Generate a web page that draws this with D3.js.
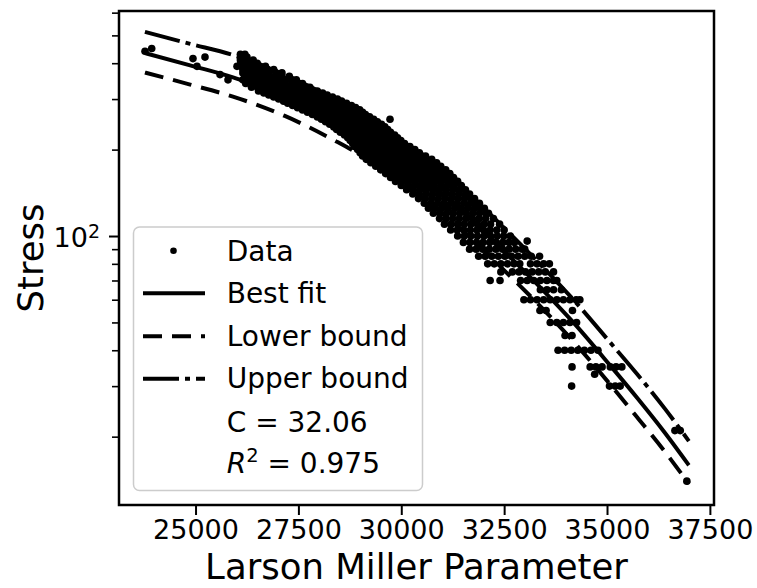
<!DOCTYPE html>
<html>
<head>
<meta charset="utf-8">
<script src="https://cdn.jsdelivr.net/npm/d3@7"></script>
<style>
  body { margin: 0; background: #fff; }
  text { font-family: "DejaVu Sans", sans-serif; fill: #000; }
</style>
</head>
<body>
<div id="chart"></div>
<script>
// fitted curves (Larson Miller parameter vs stress)
const fitLMP = [23770, 24870, 25910, 27170, 28410, 29240, 30040, 30870, 31670, 32520, 33370, 34170, 35070, 35750, 36410, 36990];
const fitBest = [434, 393, 357, 305, 250, 213, 177, 145, 116, 88, 66.4, 50.2, 35.5, 27.1, 20.6, 15.9];
const fitUpper = [514, 467, 427, 364, 298, 254, 211, 173, 139, 106, 79.9, 60.3, 42.7, 32.8, 25.0, 19.3];
const fitLower = [371, 337, 306, 262, 214, 183, 152, 124, 99.2, 75.5, 57.1, 43.1, 30.5, 23.2, 17.7, 13.7];

// test data, grouped by stress level
const rowStress = [430, 420, 410, 400, 390, 380, 370, 360, 350, 340, 330, 320, 315, 310, 305, 300, 295, 290, 285, 280,
  275, 270, 265, 260, 255, 250, 245, 240, 235, 230, 225, 220, 215, 210, 205, 200, 195, 190, 185, 180, 175, 170, 165,
  160, 155, 150, 145, 140, 135, 130, 125, 120, 115, 110, 105, 100, 95, 90, 85,
  80, 75, 70, 65, 60, 55, 50, 45, 40, 35, 30, 21, 14];
const rowLMP = [
  [26090, 26200],
  [26100, 26250],
  [26090, 26250, 26400],
  [26100, 26250, 26400, 26500],
  [26120, 26270, 26420, 26570, 26700],
  [26150, 26300, 26450, 26600, 26750, 26900],
  [26150, 26300, 26460, 26620, 26780, 26950, 27100],
  [26200, 26350, 26500, 26650, 26800, 26950, 27100, 27280],
  [26150, 26300, 26450, 26600, 26750, 26900, 27050, 27200, 27350, 27450],
  [26220, 26380, 26540, 26700, 26860, 27020, 27180, 27340, 27480, 27600],
  [26360, 26510, 26660, 26810, 26960, 27110, 27260, 27410, 27560, 27700, 27780],
  [26530, 26690, 26850, 27010, 27170, 27330, 27490, 27650, 27810, 27960],
  [26660, 26820, 26980, 27140, 27300, 27460, 27620, 27780, 27940, 28090],
  [26780, 26940, 27100, 27260, 27420, 27580, 27740, 27900, 28060, 28200],
  [26900, 27060, 27220, 27380, 27540, 27700, 27860, 28020, 28180, 28330],
  [27020, 27180, 27340, 27500, 27660, 27820, 27980, 28140, 28300, 28450],
  [27140, 27300, 27460, 27620, 27780, 27940, 28100, 28260, 28420, 28550],
  [27240, 27400, 27560, 27720, 27880, 28040, 28200, 28360, 28520, 28670],
  [27360, 27520, 27680, 27840, 28000, 28160, 28320, 28480, 28640, 28790],
  [27480, 27640, 27800, 27960, 28120, 28280, 28440, 28600, 28760, 28890],
  [27600, 27760, 27920, 28080, 28240, 28400, 28560, 28720, 28880, 28990],
  [27720, 27880, 28040, 28200, 28360, 28520, 28680, 28840, 29000, 29060],
  [27840, 28000, 28160, 28320, 28480, 28640, 28800, 28960, 29130],
  [27960, 28120, 28280, 28440, 28600, 28760, 28920, 29080, 29230],
  [28060, 28220, 28380, 28540, 28700, 28860, 29020, 29180, 29330],
  [28160, 28320, 28480, 28640, 28800, 28960, 29120, 29280, 29420],
  [28260, 28420, 28580, 28740, 28900, 29060, 29220, 29380, 29520],
  [28360, 28520, 28680, 28840, 29000, 29160, 29320, 29480, 29600],
  [28430, 28590, 28750, 28910, 29070, 29230, 29390, 29550, 29670],
  [28520, 28680, 28840, 29000, 29160, 29320, 29480, 29640, 29740],
  [28620, 28780, 28940, 29100, 29260, 29420, 29580, 29740, 29840],
  [28700, 28860, 29020, 29180, 29340, 29500, 29660, 29820, 29910],
  [28760, 28920, 29080, 29240, 29400, 29560, 29720, 29880, 29990],
  [28820, 28980, 29140, 29300, 29460, 29620, 29780, 29940, 30080],
  [28860, 29020, 29180, 29340, 29500, 29660, 29820, 29980, 30140, 30210],
  [28940, 29100, 29260, 29420, 29580, 29740, 29900, 30060, 30220, 30330],
  [29000, 29160, 29320, 29480, 29640, 29800, 29960, 30120, 30280, 30440],
  [29060, 29220, 29380, 29540, 29700, 29860, 30020, 30180, 30340, 30500, 30590],
  [29150, 29310, 29470, 29630, 29790, 29950, 30110, 30270, 30430, 30590, 30740],
  [29260, 29420, 29580, 29740, 29900, 30060, 30220, 30380, 30540, 30700, 30860],
  [29380, 29540, 29700, 29860, 30020, 30180, 30340, 30500, 30660, 30820, 30960],
  [29500, 29660, 29820, 29980, 30140, 30300, 30460, 30620, 30780, 30940, 31080],
  [29620, 29780, 29940, 30100, 30260, 30420, 30580, 30740, 30900, 31060, 31180],
  [29740, 29900, 30060, 30220, 30380, 30540, 30700, 30860, 31020, 31180, 31270],
  [29860, 30020, 30180, 30340, 30500, 30660, 30820, 30980, 31140, 31300, 31370],
  [30000, 30160, 30320, 30480, 30640, 30800, 30960, 31120, 31280, 31460],
  [30130, 30290, 30450, 30610, 30770, 30930, 31090, 31250, 31410, 31560],
  [30280, 30440, 30600, 30760, 30920, 31080, 31240, 31400, 31560, 31660],
  [30420, 30580, 30740, 30900, 31060, 31220, 31380, 31540, 31700, 31780],
  [30560, 30720, 30880, 31040, 31200, 31360, 31520, 31680, 31840, 31900],
  [30660, 30820, 30980, 31140, 31300, 31460, 31620, 31780, 31940, 32020],
  [30780, 30940, 31100, 31260, 31420, 31580, 31740, 31900, 32060, 32120],
  [30930, 31090, 31250, 31410, 31570, 31730, 31890, 32050, 32240],
  [31050, 31210, 31370, 31530, 31690, 31850, 32010, 32170, 32390],
  [31200, 31360, 31520, 31680, 31840, 32000, 32160, 32320, 32500],
  [31370, 31530, 31690, 31850, 32010, 32170, 32330, 32490, 32650],
  [31510, 31670, 31830, 31990, 32150, 32310, 32470, 32620, 32750],
  [31660, 31820, 31980, 32140, 32300, 32460, 32620, 32780, 32940, 33000],
  [31880, 32040, 32200, 32360, 32520, 32680, 32840, 33000, 33160, 33360],
  [32100, 32260, 32420, 32580, 32740, 32880, 33140, 33300, 33460, 33600],
  [32420, 32700, 32860, 33020, 33180, 33340, 33500, 33700],
  [32160, 32400, 32900, 33060, 33220, 33380, 33540, 33700, 33780],
  [33380, 33540, 33700, 33890],
  [32980, 33140, 33300, 33460, 33620, 33780, 33940, 34100, 34250, 34340],
  [33370, 33520, 34160],
  [33620, 33780, 33940, 34100, 34260],
  [33980, 34150],
  [33810, 33970, 34130, 34290, 34450, 34610, 34780],
  [34150, 34590, 34730, 34880, 35080, 35220, 35360],
  [34140, 35060, 35200, 35320],
  [36650, 36780],
  [36940]
];
// scattered single points
const extraLMP = [23935, 23772, 24938, 25230, 25036, 25595, 25789, 26202, 26008, 29726, 33060, 34700];
const extraStress = [450, 440, 415, 420, 390, 365, 350, 410, 390, 255, 96, 33];

const xTicks = [25000, 27500, 30000, 32500, 35000, 37500];
const yMajor = [100];
const yMinor = [20, 30, 40, 50, 60, 70, 80, 90, 200, 300, 400, 500, 600];

const legendLabels = ["Data", "Best fit", "Lower bound", "Upper bound"];
const cText = "C = 32.06";
const r2Value = "0.975";

const width = 757, height = 588;
const plotLeft = 119, plotRight = 714, plotTop = 11, plotBottom = 505;
const dashLower = "19,10", dashUpper = "36,6,5,6";

const svg = d3.select("#chart").append("svg")
  .attr("width", width)
  .attr("height", height);

const x = d3.scaleLinear().domain([23140, 37600]).range([plotLeft, plotRight]);
const y = d3.scaleLog().domain([11.56, 608]).range([plotBottom, plotTop]);

svg.append("clipPath").attr("id", "clip")
  .append("rect")
  .attr("x", plotLeft).attr("y", plotTop)
  .attr("width", plotRight - plotLeft).attr("height", plotBottom - plotTop);

const points = [];
rowStress.forEach((s, i) => rowLMP[i].forEach((l) => points.push([l, s])));
extraLMP.forEach((l, i) => points.push([l, extraStress[i]]));

const plot = svg.append("g").attr("clip-path", "url(#clip)");

plot.selectAll("circle.dot")
  .data(points)
  .enter()
  .append("circle")
  .attr("class", "dot")
  .attr("cx", (d) => x(d[0]))
  .attr("cy", (d) => y(d[1]))
  .attr("r", 3.8)
  .attr("fill", "#000");

const line = d3.line()
  .x((d) => x(d[0]))
  .y((d) => y(d[1]))
  .curve(d3.curveMonotoneX);

const curves = [
  { vals: fitBest, dash: null },
  { vals: fitLower, dash: dashLower },
  { vals: fitUpper, dash: dashUpper }
];

curves.forEach((c) => {
  plot.append("path")
    .datum(fitLMP.map((l, i) => [l, c.vals[i]]))
    .attr("d", line)
    .attr("fill", "none")
    .attr("stroke", "#000")
    .attr("stroke-width", 4)
    .attr("stroke-dasharray", c.dash);
});

// axes
const xAxis = svg.append("g")
  .attr("transform", "translate(0," + plotBottom + ")")
  .call(d3.axisBottom(x).tickValues(xTicks).tickSize(10).tickPadding(5).tickFormat(d3.format("d")));
xAxis.select(".domain").remove();
xAxis.selectAll("line").attr("stroke-width", 2);
xAxis.selectAll("text").attr("font-size", 27).attr("font-family", "DejaVu Sans");

const yAxisMinor = svg.append("g")
  .attr("transform", "translate(" + plotLeft + ",0)")
  .call(d3.axisLeft(y).tickValues(yMinor).tickSize(7).tickFormat(""));
yAxisMinor.select(".domain").remove();
yAxisMinor.selectAll("line").attr("stroke-width", 1.6);

const yAxis = svg.append("g")
  .attr("transform", "translate(" + plotLeft + ",0)")
  .call(d3.axisLeft(y).tickValues(yMajor).tickSize(10).tickPadding(9).tickFormat(""));
yAxis.select(".domain").remove();
yAxis.selectAll("line").attr("stroke-width", 2);
yAxis.selectAll("text")
  .attr("font-size", 27)
  .attr("font-family", "DejaVu Sans")
  .attr("dy", "0.4em")
  .each(function (d) {
    const t = d3.select(this);
    t.append("tspan").text("10");
    t.append("tspan").attr("dy", -9).attr("font-size", 19).text(String(Math.round(Math.log10(d))));
  });

// frame
svg.append("rect")
  .attr("x", plotLeft).attr("y", plotTop)
  .attr("width", plotRight - plotLeft).attr("height", plotBottom - plotTop)
  .attr("fill", "none")
  .attr("stroke", "#000")
  .attr("stroke-width", 2.5);

// axis titles
svg.append("text")
  .text("Larson Miller Parameter")
  .attr("x", (plotLeft + plotRight) / 2)
  .attr("y", 579)
  .attr("text-anchor", "middle")
  .attr("font-size", 35.5);

svg.append("text")
  .text("Stress")
  .attr("transform", "translate(43," + (plotTop + plotBottom) / 2 + ") rotate(-90)")
  .attr("text-anchor", "middle")
  .attr("font-size", 35.5);

// legend
const legend = svg.append("g");
legend.append("rect")
  .attr("x", 133.5).attr("y", 227)
  .attr("width", 289).attr("height", 263.5)
  .attr("rx", 6)
  .attr("fill", "#fff").attr("fill-opacity", 0.8)
  .attr("stroke", "#cccccc").attr("stroke-width", 1.5);

const rowY = [260.7, 302.7, 345.7, 388.3, 431.7, 473.3];
const textX = 226.7;

legend.append("circle").attr("cx", 173.5).attr("cy", rowY[0] - 10).attr("r", 3.3).attr("fill", "#000");
[null, dashLower, dashUpper].forEach((dash, i) => {
  legend.append("line")
    .attr("x1", 143).attr("x2", 205)
    .attr("y1", rowY[i + 1] - 9.5).attr("y2", rowY[i + 1] - 9.5)
    .attr("stroke", "#000").attr("stroke-width", 4)
    .attr("stroke-dasharray", dash);
});

legendLabels.forEach((t, i) => {
  legend.append("text").text(t).attr("x", textX).attr("y", rowY[i]).attr("font-size", 28);
});
legend.append("text").text(cText).attr("x", textX).attr("y", rowY[4]).attr("font-size", 28);

const r2 = legend.append("text").attr("x", textX).attr("y", rowY[5]).attr("font-size", 28);
r2.append("tspan").attr("font-style", "italic").text("R");
r2.append("tspan").attr("dy", -11).attr("font-size", 19.5).text("2");
r2.append("tspan").attr("dy", 11).text(" = " + r2Value);
</script>
</body>
</html>
